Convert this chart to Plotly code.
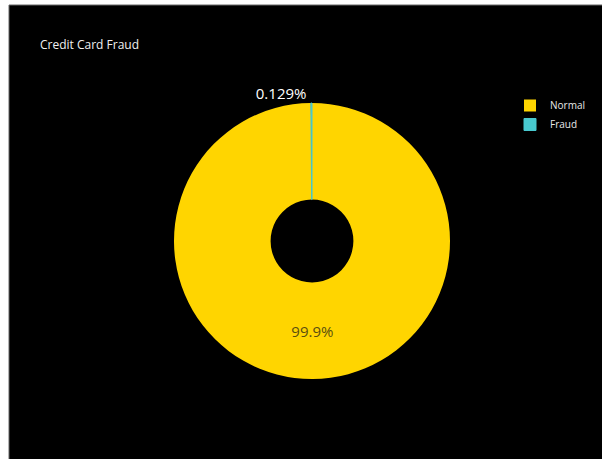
import plotly.graph_objects as go

labels = ["Normal", "Fraud"]
values = [99871, 129]
colors = ["#FFD500", "#48C9CF"]

W, H = 602, 459

fig = go.Figure()
fig.add_trace(go.Pie(
    labels=labels,
    values=values,
    hole=0.3,
    sort=False,
    direction="clockwise",
    rotation=0,
    marker=dict(colors=colors, line=dict(color=colors, width=[0, 1])),
    textinfo="percent",
    textposition=["inside", "outside"],
    insidetextfont=dict(size=15, color="#5a4e10"),
    outsidetextfont=dict(size=15, color="#ffffff"),
    domain=dict(x=[174 / W, 450 / W], y=[(H - 379) / H, (H - 103) / H]),
))

fig.update_layout(
    width=W, height=H,
    margin=dict(l=0, r=0, t=0, b=0),
    paper_bgcolor="#ffffff",
    font=dict(family="Open Sans", color="#ffffff"),
    title=dict(text="Credit Card Fraud", x=40 / W, xanchor="left", xref="paper",
               y=1 - 45 / H, yanchor="middle", yref="paper",
               font=dict(size=12, color="#f0f0f0")),
    legend=dict(x=510 / W, xanchor="left", y=1 - 91 / H, yanchor="top",
                font=dict(size=10, color="#e8e8e8"), bgcolor="rgba(0,0,0,0)"),
    shapes=[dict(type="rect", xref="paper", yref="paper", layer="below",
                 x0=9 / W, x1=1.01, y0=-0.01, y1=1 - 5 / H,
                 fillcolor="#000000", line=dict(color="#666666", width=1))],
)

fig.write_html("out.html")
